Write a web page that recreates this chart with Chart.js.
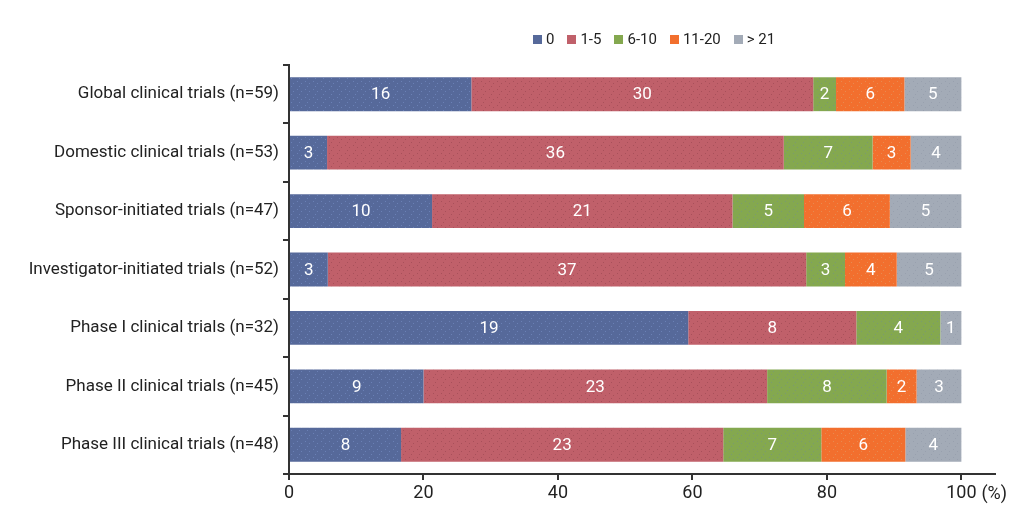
<!DOCTYPE html>
<html>
<head>
<meta charset="utf-8">
<script src="https://cdn.jsdelivr.net/npm/chart.js@4"></script>
<style>
  body { margin: 0; background: #fff; }
  #wrap { position: relative; width: 1018px; height: 526px; }
  #legend { position: absolute; top: 30px; left: 533px; font: 15px 'Liberation Sans Narrow', Roboto, sans-serif; color: #222; white-space: nowrap; }
  #legend span.item { margin-right: 13px; }
  #legend span.box { display: inline-block; width: 9px; height: 9px; margin-right: 4px; vertical-align: 0px; }
</style>
</head>
<body>
<div id="wrap">
  <canvas id="myChart" width="1018" height="526"></canvas>
  <div id="legend"></div>
</div>
<script>
const categories = [
  "Global clinical trials (n=59)",
  "Domestic clinical trials (n=53)",
  "Sponsor-initiated trials (n=47)",
  "Investigator-initiated trials (n=52)",
  "Phase I clinical trials (n=32)",
  "Phase II clinical trials (n=45)",
  "Phase III clinical trials (n=48)"
];
const groups = ["0", "1-5", "6-10", "11-20", "> 21"];
const cnt0    = [16, 3, 10, 3, 19, 9, 8];
const cnt1to5 = [30, 36, 21, 37, 8, 23, 23];
const cnt6to10 = [2, 7, 5, 3, 4, 8, 7];
const cnt11to20 = [6, 3, 6, 4, 0, 2, 6];
const cntOver21 = [5, 4, 5, 5, 1, 3, 4];
const xTicks = [0, 20, 40, 60, 80, 100];

const colors = ["#56699a", "#c0606a", "#84a84f", "#f26f2e", "#a3abb7"];
const counts = [cnt0, cnt1to5, cnt6to10, cnt11to20, cntOver21];
const totals = categories.map((c, i) => counts.reduce((s, a) => s + a[i], 0));

function dotted(base, dot) {
  const c = document.createElement("canvas");
  c.width = 8; c.height = 8;
  const g = c.getContext("2d");
  g.fillStyle = base; g.fillRect(0, 0, 8, 8);
  g.fillStyle = dot;
  g.fillRect(1, 1, 1, 1); g.fillRect(5, 3, 1, 1); g.fillRect(3, 6, 1, 1);
  return g.createPattern(c, "repeat");
}
const fills = [
  dotted(colors[0], "#6a80b5"),
  dotted(colors[1], "#a8505a"),
  dotted(colors[2], "#7a9a70"),
  dotted(colors[3], "#e88a50"),
  dotted(colors[4], "#98a0ae")
];

const labelFont = "'Liberation Sans Narrow', Roboto, sans-serif";

const valueLabels = {
  id: "valueLabels",
  afterDatasetsDraw(chart) {
    const ctx = chart.ctx;
    ctx.save();
    ctx.font = "17px " + labelFont;
    ctx.fillStyle = "#fff";
    ctx.textAlign = "center";
    ctx.textBaseline = "middle";
    chart.data.datasets.forEach((ds, di) => {
      chart.getDatasetMeta(di).data.forEach((bar, i) => {
        const n = counts[di][i];
        if (!n) return;
        ctx.fillText(String(n), (bar.x + bar.base) / 2, bar.y + 1);
      });
    });
    // unit after the last tick
    const xs = chart.scales.x;
    ctx.fillStyle = "#222";
    ctx.textAlign = "left";
    ctx.textBaseline = "top";
    ctx.font = "18px " + labelFont;
    ctx.fillText("(%)", xs.getPixelForValue(100) + 20, xs.top + 11);
    ctx.restore();
  }
};

const ctx = document.getElementById("myChart").getContext("2d");
const myChart = new Chart(ctx, {
  type: "bar",
  data: {
    labels: categories,
    datasets: groups.map((g, di) => ({
      label: g,
      data: counts[di].map((v, i) => v / totals[i] * 100),
      backgroundColor: fills[di],
      borderWidth: 0,
      barPercentage: 0.58,
      categoryPercentage: 1
    }))
  },
  options: {
    indexAxis: "y",
    responsive: false,
    animation: false,
    layout: { padding: { top: 65, right: 23, left: 0, bottom: 0 } },
    plugins: { legend: { display: false }, tooltip: { enabled: false } },
    scales: {
      x: {
        stacked: true,
        min: 0,
        max: 105,
        afterBuildTicks(scale) { scale.ticks = xTicks.map(v => ({ value: v })); },
        afterFit(scale) { scale.height = 52; },
        border: { color: "#333", width: 2 },
        grid: { drawOnChartArea: false, tickLength: 6, color: "#333", lineWidth: 2 },
        ticks: { color: "#222", font: { family: labelFont, size: 18 }, padding: 3 }
      },
      y: {
        stacked: true,
        afterFit(scale) { scale.width = 289; },
        border: { color: "#333", width: 2 },
        grid: { drawOnChartArea: false, tickLength: 6, color: "#333", lineWidth: 2 },
        ticks: { color: "#222", font: { family: labelFont, size: 17 }, padding: 4 }
      }
    }
  },
  plugins: [valueLabels]
});

const legend = document.getElementById("legend");
groups.forEach((g, i) => {
  const it = document.createElement("span");
  it.className = "item";
  it.innerHTML = '<span class="box" style="background:' + colors[i] + '"></span>' + g;
  legend.appendChild(it);
});
</script>
</body>
</html>
